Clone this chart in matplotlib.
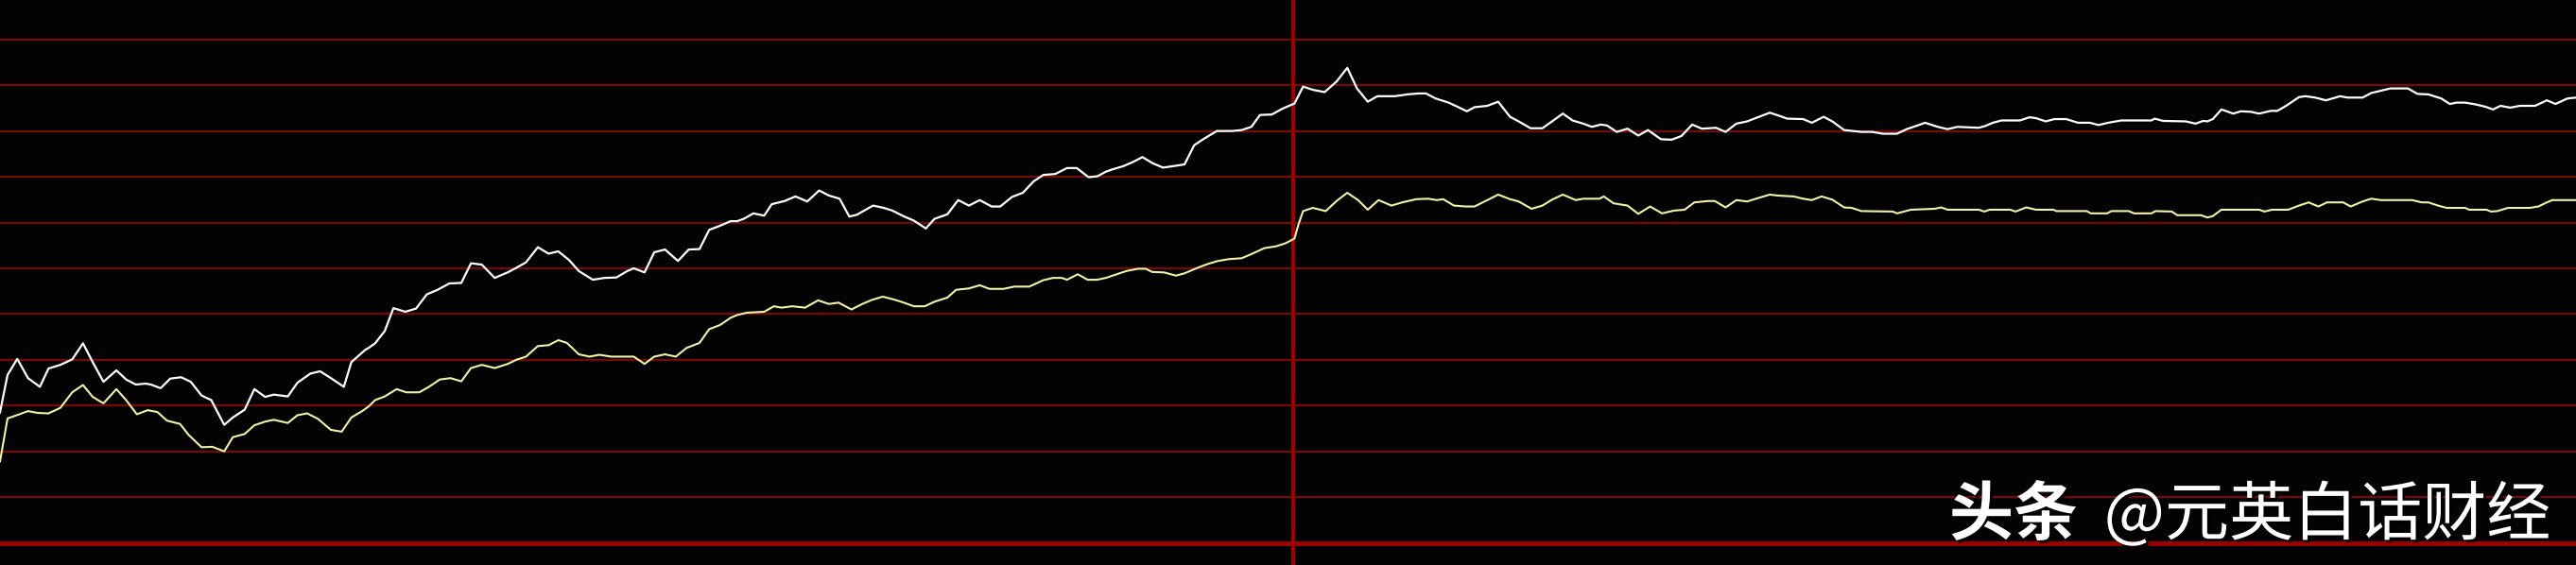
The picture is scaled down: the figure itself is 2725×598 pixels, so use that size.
import numpy as np
import matplotlib.pyplot as plt
import matplotlib.patheffects as pe

# Minuten seit Handelsbeginn und Kurs (in Rasterstufen)
preis_t = [0, 0.7, 1.6, 2.6, 3.7, 4.5, 5.6, 6.7, 7.7, 8.6, 9.6, 10.8, 11.7, 12.6, 13.5, 14.0, 14.9, 15.8, 16.8, 17.7,
           18.7, 19.6, 20.8, 21.6, 22.7, 23.6, 24.6, 25.4, 26.7, 27.6, 28.8, 29.7, 30.7, 31.9, 32.6, 33.9,
           34.2, 34.8, 35.7, 36.5, 37.6, 38.6, 39.6, 40.6, 41.7, 42.8, 43.7, 44.7, 45.9, 47.1, 47.9, 48.8, 49.9, 50.9,
           51.8, 52.8, 53.7, 55.0, 56.1, 57.2, 58.2, 58.8, 59.8, 60.7, 61.7, 62.9, 63.9, 64.9, 65.8, 66.7, 67.8,
           68.4, 69.0, 69.9, 70.9, 71.6, 72.8, 73.8, 74.9, 76.0, 76.9, 77.9, 78.8, 79.5, 81.0, 82.0, 82.8, 83.9, 84.8,
           85.9, 86.7, 87.9, 88.9, 89.9, 90.9, 92.0, 92.8, 93.9, 94.9, 95.9, 96.8, 97.9, 99.0, 99.9, 101.0, 101.8,
           102.6, 103.2, 104.2, 105.1, 106.0, 106.9, 107.9, 108.8, 109.9, 110.8, 111.7, 112.9, 114.3, 115.2, 116.1,
           116.9, 118.0, 119.0, 120.1, 120.9, 121.8, 122.9, 124.0, 125.0, 125.9, 126.9, 127.8, 129.4, 130.6, 131.6,
           132.3, 133.2, 134.4, 135.4, 136.1,
           136.8, 138.0, 139.0, 140.1, 140.9, 142.0, 143.1, 144.0, 145.0, 145.9, 146.9, 147.7, 148.5, 149.1, 150.0,
           151.0, 152.0, 152.9, 154.1, 155.1, 156.0, 157.0, 157.9, 159.2, 160.1, 161.1, 162.1, 163.2, 164.2, 165.1,
           165.8, 167.3, 168.1, 169.2, 170.0,
           171.1, 172.7, 173.7, 174.7, 176.0, 176.9, 177.9, 178.6, 179.8, 180.7, 181.6, 183.6, 184.2, 184.9, 185.7,
           187.4, 188.3, 188.9, 189.8, 190.6, 191.7, 192.8, 193.9, 194.7, 195.6, 196.8, 198.0, 199.6, 199.9, 200.7,
           202.8, 203.7, 204.4,
           204.8, 205.3, 206.1, 207.2, 207.9, 208.8, 209.6, 210.7, 211.3, 212.1, 213.3, 213.9, 214.8, 215.8, 216.4,
           217.1, 217.8, 219.2, 220.0, 220.9, 221.8, 223.4, 224.3, 225.3, 226.5, 227.3, 227.9, 228.7, 229.7, 230.6,
           231.3, 232.0, 232.9, 233.8, 235.2, 236.3, 237.1, 238.2, 239.0]
preis = [2.85, 3.67, 4.02, 3.60, 3.41, 3.81, 3.89, 4.01, 4.36, 3.95, 3.52, 3.77, 3.57, 3.46, 3.48, 3.46, 3.38, 3.59,
         3.62, 3.52, 3.22, 3.12, 2.58, 2.74, 2.91, 3.36, 3.19, 3.24, 3.20, 3.50, 3.70, 3.75, 3.60, 3.41, 3.95, 4.22,
         4.26, 4.36, 4.63, 5.13, 5.05, 5.12, 5.43, 5.53, 5.67, 5.68, 6.11, 6.08, 5.79, 5.91, 6.01, 6.13, 6.46, 6.32,
         6.37, 6.18, 5.94, 5.75, 5.79, 5.80, 5.94, 6.00, 5.91, 6.35, 6.41, 6.16, 6.41, 6.42, 6.84, 6.92, 7.03,
         7.03, 7.08, 7.20, 7.15, 7.40, 7.47, 7.57, 7.46, 7.70, 7.59, 7.52, 7.13, 7.17, 7.37, 7.32, 7.26, 7.13, 7.04,
         6.87, 7.08, 7.18, 7.49, 7.37, 7.49, 7.35, 7.35, 7.56, 7.65, 7.90, 8.04, 8.06, 8.19, 8.19, 7.99, 8.01,
         8.11, 8.16, 8.23, 8.32, 8.43, 8.30, 8.20, 8.23, 8.27, 8.69, 8.83, 9.00, 9.00, 9.02, 9.09, 9.35, 9.36, 9.49,
         9.60, 9.97, 9.90, 9.85, 10.08, 10.38, 9.93, 9.64, 9.76, 9.76, 9.80, 9.82, 9.82, 9.71, 9.62, 9.51, 9.43,
         9.52, 9.55, 9.64, 9.31, 9.21, 9.06, 9.06, 9.21, 9.38, 9.23, 9.16, 9.09, 9.14, 9.12, 8.98, 9.05, 8.90, 9.02,
         8.82, 8.81, 8.89, 9.14, 9.05, 9.07, 8.98, 9.16, 9.21, 9.31, 9.40, 9.33, 9.27, 9.26, 9.18, 9.31, 9.21,
         9.02, 8.98, 8.98, 8.94, 8.94, 9.04, 9.12, 9.18, 9.09, 9.04, 9.09, 9.07, 9.11, 9.18, 9.23, 9.23, 9.30, 9.28,
         9.21, 9.26, 9.26, 9.18, 9.18, 9.13, 9.18, 9.23, 9.23, 9.23, 9.27, 9.22, 9.21, 9.16, 9.22,
         9.21, 9.26, 9.47, 9.38, 9.43, 9.42, 9.38, 9.44, 9.44, 9.55, 9.74, 9.76, 9.73, 9.67, 9.71, 9.76, 9.73, 9.73,
         9.83, 9.88, 9.93, 9.93, 9.81, 9.80, 9.71, 9.59, 9.62, 9.62, 9.58, 9.53, 9.47, 9.55, 9.51, 9.55, 9.55, 9.67,
         9.59, 9.71, 9.73]

# Durchschnittspreis (gelbe Linie)
mittel_t = [0, 0.7, 1.8, 2.6, 3.5, 4.5, 5.6, 6.7, 7.7, 8.6, 9.6, 10.8, 11.7, 12.7, 13.7, 14.6, 15.5, 16.7, 17.5, 18.7,
            19.7, 20.8, 21.6, 22.7, 23.6, 24.6, 25.4, 26.7, 27.6, 28.5, 29.5, 30.7, 31.7, 32.6, 33.6,
            34.2, 34.8, 35.7, 36.8, 37.7, 38.9, 39.8, 40.8, 41.8, 42.8, 43.7, 44.7, 45.9, 47.1, 47.9, 48.8, 49.9,
            50.9, 51.8, 52.6, 53.7, 54.7, 55.6, 56.7, 58.8, 59.8, 60.7, 61.7, 62.7, 63.7, 64.9, 65.8, 66.8, 67.8,
            68.4, 69.3, 70.9, 71.8, 72.5, 73.5, 74.7, 75.9, 76.9, 77.8, 79.0, 80.0, 80.9, 81.9, 82.9, 83.6, 84.8,
            85.8, 86.7, 87.9, 88.7, 89.9, 90.9, 91.8, 93.1, 94.1, 95.5, 96.8, 97.7, 98.5, 99.0, 100.0, 100.9, 101.8,
            102.6, 103.5, 104.5, 105.6, 106.3, 106.9, 108.0, 109.1, 109.9, 111.0, 112.0, 113.0, 114.0, 115.2, 116.2,
            117.3, 118.4, 119.3, 120.1, 120.5, 120.9, 121.8, 123.0, 124.0, 125.0, 126.0, 126.9, 127.9, 129.1, 130.1,
            131.4, 132.5, 133.3, 133.9, 134.9, 136.0,
            136.8, 138.0, 139.0, 140.1, 140.9, 142.1, 143.1, 144.0, 145.0, 146.2, 146.9, 148.4, 148.8, 149.7, 151.0,
            152.0, 153.1, 154.2, 155.3, 156.3, 157.2, 158.5, 159.1, 160.1, 161.1, 162.1, 163.2, 164.2, 164.9, 166.4,
            167.3, 168.1, 169.0, 170.0,
            171.1, 171.8, 172.7, 175.6, 176.0, 177.3, 179.5, 180.1, 180.7, 183.6, 184.1, 184.6, 186.5, 187.0, 188.0,
            188.9, 190.5, 190.8, 193.6, 194.0, 195.5, 195.9, 197.5, 198.0, 199.6, 200.0, 201.5, 202.0, 204.2,
            204.8, 205.3, 206.1, 209.6, 210.1, 210.8, 212.3, 213.3, 214.2, 215.1, 215.9, 217.4, 218.1, 219.2, 220.0,
            220.9, 223.8, 224.7, 225.3, 226.2, 227.0, 228.7, 229.1, 230.7, 231.1, 231.7, 232.7, 234.7, 235.5, 236.3,
            236.8, 239.0]
mittel = [1.78, 2.72, 2.81, 2.88, 2.84, 2.83, 2.95, 3.29, 3.45, 3.19, 3.05, 3.36, 3.12, 2.81, 2.90, 2.86, 2.67, 2.60,
          2.36, 2.09, 2.10, 2.00, 2.31, 2.38, 2.57, 2.65, 2.69, 2.62, 2.79, 2.83, 2.71, 2.47, 2.43, 2.74, 2.88,
          2.98, 3.12, 3.20, 3.36, 3.29, 3.29, 3.41, 3.57, 3.60, 3.53, 3.82, 3.89, 3.82, 3.91, 4.00, 4.07, 4.30, 4.32,
          4.43, 4.37, 4.12, 4.07, 4.11, 4.07, 4.07, 3.91, 4.07, 4.12, 4.07, 4.26, 4.37, 4.67, 4.76, 4.92,
          4.98, 5.03, 5.05, 5.17, 5.14, 5.17, 5.14, 5.30, 5.22, 5.25, 5.10, 5.22, 5.31, 5.38, 5.32, 5.27, 5.17, 5.17,
          5.27, 5.36, 5.53, 5.56, 5.63, 5.55, 5.55, 5.60, 5.60, 5.74, 5.79, 5.79, 5.75, 5.87, 5.75, 5.75,
          5.79, 5.86, 5.94, 5.99, 5.99, 5.92, 5.91, 5.84, 5.89, 6.00, 6.09, 6.16, 6.20, 6.22, 6.32, 6.44, 6.48, 6.55,
          6.65, 6.98, 7.25, 7.32, 7.25, 7.47, 7.65, 7.49, 7.28, 7.49, 7.37, 7.44, 7.51, 7.52, 7.49, 7.51, 7.37, 7.35,
          7.35, 7.49, 7.61, 7.51, 7.46, 7.30, 7.37, 7.50, 7.61, 7.49, 7.52, 7.52, 7.57, 7.42, 7.37, 7.19, 7.35, 7.20,
          7.26, 7.28, 7.44, 7.47, 7.47, 7.33, 7.49, 7.46, 7.54, 7.61, 7.59, 7.57, 7.52, 7.49, 7.57, 7.50,
          7.33, 7.32, 7.25, 7.24, 7.20, 7.28, 7.30, 7.33, 7.28, 7.28, 7.24, 7.28, 7.28, 7.24, 7.33, 7.28, 7.28, 7.25,
          7.25, 7.20, 7.20, 7.25, 7.25, 7.20, 7.20, 7.25, 7.24, 7.16, 7.16,
          7.11, 7.14, 7.28, 7.28, 7.24, 7.28, 7.28, 7.37, 7.44, 7.35, 7.44, 7.44, 7.35, 7.46, 7.52, 7.49, 7.49, 7.44,
          7.44, 7.37, 7.32, 7.32, 7.28, 7.28, 7.24, 7.25, 7.32, 7.32, 7.35, 7.44, 7.49, 7.49]

raster = np.arange(1, 12)   # horizontale Rasterlinien
mittagspause = 120          # Trennlinie Vormittag / Nachmittag

fig = plt.figure(figsize=(27.25, 5.98), dpi=100, facecolor='#030303')
ax = fig.add_axes([0, 0, 1, 1])
ax.set_facecolor('#030303')

for r in raster:
    ax.axhline(r, color='#760a0a', lw=1.6, zorder=1)
ax.axhline(0, color='#990000', lw=3.6, zorder=1)
ax.axvline(mittagspause, color='#a00000', lw=3.0, zorder=1)

ax.plot(mittel_t, mittel, color='#f2f2a6', lw=1.5, zorder=3)
ax.plot(preis_t, preis, color='white', lw=1.6, zorder=4)

ax.set_xlim(0, 239.0)
ax.set_ylim(-0.483, 11.862)
ax.axis('off')

schatten = [pe.withSimplePatchShadow(offset=(2, -2), shadow_rgbFace='black', alpha=0.9)]
fig.text(2698 / 2725, 1 - 566 / 598, '@元英白话财经', color='white', fontsize=49,
         family=['Noto Sans CJK SC', 'DejaVu Sans'], ha='right', va='baseline', path_effects=schatten)
fig.text(2198 / 2725, 1 - 566 / 598, '头条', color='white', fontsize=49, fontweight='bold',
         family=['Noto Sans CJK SC', 'DejaVu Sans'], ha='right', va='baseline', path_effects=schatten)

plt.savefig('out.png', dpi=100, facecolor=fig.get_facecolor())
